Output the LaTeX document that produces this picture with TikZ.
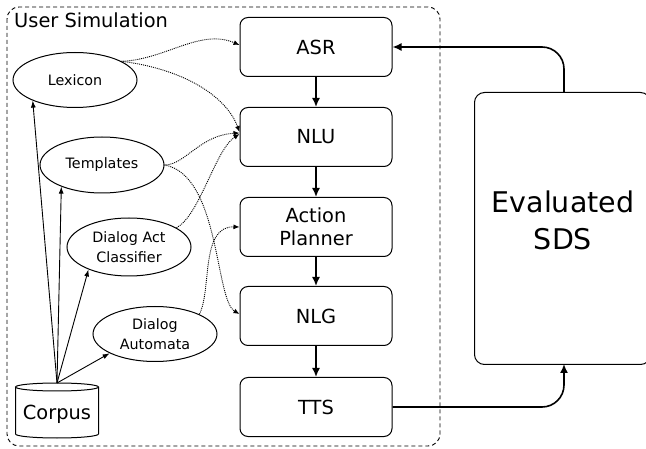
\documentclass[tikz,border=0pt]{standalone}
\usepackage{fontspec}
\setmainfont{DejaVu Sans}
\usetikzlibrary{arrows.meta,shapes.geometric}
\begin{document}
\begin{tikzpicture}[x=1pt,y=-1pt,
  box/.style={draw,rounded corners=8pt,line width=1pt,minimum width=152pt,minimum height=59pt,inner sep=0pt,font=\fontsize{19.4}{23}\selectfont,align=center},
  ell/.style={draw,ellipse,line width=1pt,minimum width=124pt,minimum height=55pt,inner sep=0pt,font=\fontsize{14.3}{20}\selectfont,align=center},
  flow/.style={line width=1.6pt,-{Latex[length=9pt,width=8pt]}},
  feed/.style={line width=0.9pt,dash pattern=on 1pt off 1pt,-{Latex[length=6pt,width=5pt]}},
  data/.style={line width=0.9pt,-{Latex[length=7pt,width=5pt]}}]
\useasboundingbox (0,0) rectangle (646,449);
% frame
\draw[line width=0.9pt,dash pattern=on 4pt off 3pt,rounded corners=12pt] (7,7) rectangle (440,446);
\node[anchor=base west,inner sep=0pt,font=\fontsize{19.4}{23}\selectfont] (title) at (14,28) {User Simulation};
% pipeline
\node[box] (asr) at (316,47) {ASR};
\node[box] (nlu) at (316,137) {NLU};
\node[box] (ap) at (316,227) {Action\\Planner};
\node[box] (nlg) at (316,316) {NLG};
\node[box] (tts) at (316,407) {TTS};
\draw[flow] (asr) -- (nlu);
\draw[flow] (nlu) -- (ap);
\draw[flow] (ap) -- (nlg);
\draw[flow] (nlg) -- (tts);
% evaluated SDS
\node[draw,rounded corners=10pt,line width=1pt,minimum width=176pt,minimum height=272pt,anchor=north west,inner sep=0pt] (sds) at (474,92) {};
\node[font=\fontsize{28.5}{37}\selectfont,align=center] (sdstext) at (563,220) {Evaluated\\SDS};
\coordinate (sdsup) at (564,92);
\coordinate (sdsdn) at (564,364);
\draw[flow,rounded corners=22pt] (sdsup) |- (asr.east);
\draw[flow,rounded corners=22pt] (tts.east) -| (sdsdn);
% resources
\node[ell] (lex) at (75,80) {Lexicon};
\node[ell,minimum height=56pt] (tmp) at (102,165) {Templates};
\node[ell,minimum height=58pt] (dac) at (129,247) {Dialog Act\\Classifier};
\node[ell] (da) at (155,334) {Dialog\\Automata};
% corpus
\draw[line width=1pt] (57,387) ellipse[x radius=41.5,y radius=4];
\draw[line width=1pt] (15.5,387) -- (15.5,434) arc[start angle=180,end angle=0,x radius=41.5,y radius=4] -- (98.5,387);
\node[font=\fontsize{19.4}{23}\selectfont] (corpus) at (57,414) {Corpus};
\coordinate (ctop) at (57,383);
\draw[data] (ctop) -- (lex.206);
\draw[data] (ctop) -- (tmp.208);
\draw[data] (ctop) -- (dac.209);
\draw[data] (ctop) -- (da.203);
% dotted feeds
\draw[feed] (lex.22) .. controls (165,60) and (200,28) .. ([yshift=2pt]asr.west);
\draw[feed] (lex.22) .. controls (190,70) and (228,100) .. ([yshift=5pt]nlu.west);
\draw[feed] (tmp.east) .. controls (185,165) and (200,135) .. ([yshift=4pt]nlu.west);
\draw[feed] (dac.22) .. controls (200,215) and (215,150) .. ([yshift=3pt]nlu.west);
\draw[feed] (tmp.east) .. controls (220,175) and (215,300) .. ([yshift=2pt]nlg.west);
\draw[feed] (da.24) .. controls (212,290) and (200,226) .. (ap.west);
\end{tikzpicture}
\end{document}
